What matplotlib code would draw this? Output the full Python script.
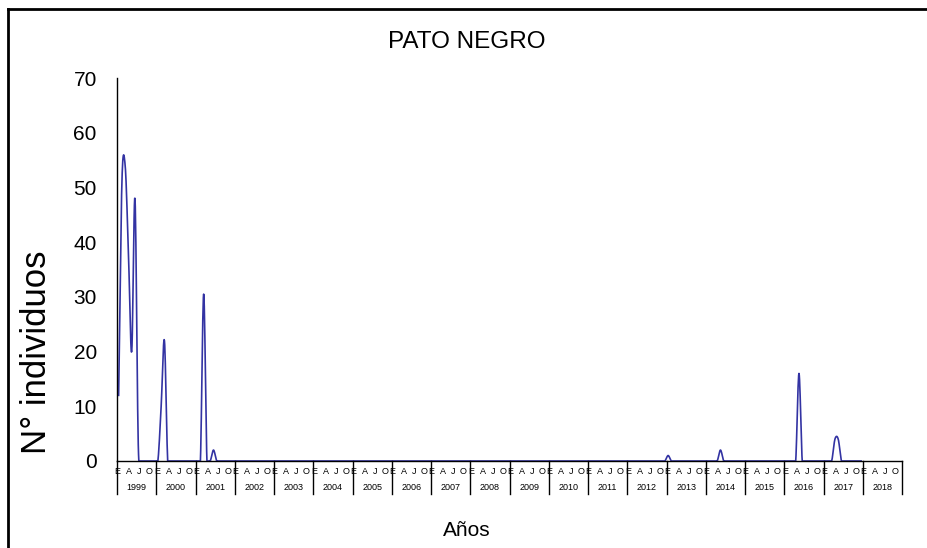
import numpy as np
import matplotlib.pyplot as plt
from matplotlib.lines import Line2D

plt.rcParams['font.family'] = ['Liberation Sans', 'DejaVu Sans']

anios = list(range(1999, 2019))
etiquetas_mes = ["E", "A", "J", "O"]

# N° individuos por mes (enero..diciembre)
conteo_1999 = [12, 51, 54, 38, 20, 48, 3, 0, 0, 0, 0, 0]
conteo_2000 = [0, 10, 22, 0, 0, 0, 0, 0, 0, 0, 0, 0]
conteo_2001 = [0, 0, 30.5, 0, 0, 2, 0, 0, 0, 0, 0, 0]
conteo_2002 = [0] * 12
conteo_2003 = [0] * 12
conteo_2004 = [0] * 12
conteo_2005 = [0] * 12
conteo_2006 = [0] * 12
conteo_2007 = [0] * 12
conteo_2008 = [0] * 12
conteo_2009 = [0] * 12
conteo_2010 = [0] * 12
conteo_2011 = [0] * 12
conteo_2012 = [0] * 12
conteo_2013 = [1, 0, 0, 0, 0, 0, 0, 0, 0, 0, 0, 0]
conteo_2014 = [0, 0, 0, 0, 2, 0, 0, 0, 0, 0, 0, 0]
conteo_2015 = [0] * 12
conteo_2016 = [0, 0, 0, 0, 16, 0, 0, 0, 0, 0, 0, 0]
conteo_2017 = [0, 0, 0, 4, 4, 0, 0, 0, 0, 0, 0, 0]

serie = (conteo_1999 + conteo_2000 + conteo_2001 + conteo_2002 + conteo_2003
         + conteo_2004 + conteo_2005 + conteo_2006 + conteo_2007 + conteo_2008
         + conteo_2009 + conteo_2010 + conteo_2011 + conteo_2012 + conteo_2013
         + conteo_2014 + conteo_2015 + conteo_2016 + conteo_2017)
y = np.array(serie, dtype=float)
x = np.arange(len(y)) + 0.5   # cada mes centrado en su categoria


# linea suavizada estilo Excel (bezier con puntos de control a 1/6)
def suavizar(px, py, n=12):
    xs, ys = [], []
    N = len(px)
    t = np.linspace(0, 1, n)
    for i in range(N - 1):
        i0, i3 = max(i - 1, 0), min(i + 2, N - 1)
        c1x = px[i] + (px[i + 1] - px[i0]) / 6
        c1y = py[i] + (py[i + 1] - py[i0]) / 6
        c2x = px[i + 1] - (px[i3] - px[i]) / 6
        c2y = py[i + 1] - (py[i3] - py[i]) / 6
        b0, b1, b2, b3 = (1 - t) ** 3, 3 * (1 - t) ** 2 * t, 3 * (1 - t) * t ** 2, t ** 3
        xs.append(b0 * px[i] + b1 * c1x + b2 * c2x + b3 * px[i + 1])
        ys.append(b0 * py[i] + b1 * c1y + b2 * c2y + b3 * py[i + 1])
    return np.concatenate(xs), np.concatenate(ys)


sx, sy = suavizar(x, y)
sy = np.clip(sy, 0, None)

W, H = 928, 548
fig = plt.figure(figsize=(W / 100, H / 100), dpi=100)
ax = fig.add_axes([117 / W, 1 - 461 / H, (902 - 117) / W, (461 - 78) / H])

ax.plot(sx, sy, color="#3333a3", lw=1.2, clip_on=False, zorder=1)

n_meses = 12 * len(anios)
ax.set_xlim(0, n_meses)
ax.set_ylim(0, 70)
ax.set_yticks(range(0, 71, 10))
ax.tick_params(axis="y", length=0, pad=14.5, labelsize=15)
ax.set_xticks([])
for s in ["top", "right"]:
    ax.spines[s].set_visible(False)
for s in ["left", "bottom"]:
    ax.spines[s].set_linewidth(1.0)
    ax.spines[s].set_zorder(3)

# eje de categorias: meses y años
trans = ax.get_xaxis_transform()
alto = (461 - 78)
for k, anio in enumerate(anios):
    x0 = 12 * k
    ax.add_line(Line2D([x0, x0], [0, -33 / alto], transform=trans, color="black",
                       lw=1.0, clip_on=False))
    for j, et in enumerate(etiquetas_mes):
        ax.text(x0 + [0.2, 3.8, 6.9, 9.9][j], -11 / alto, et, transform=trans,
                ha="center", va="center", fontsize=6.5)
    ax.text(x0 + 6, -26 / alto, str(anio), transform=trans, ha="center",
            va="center", fontsize=6.5)
ax.add_line(Line2D([n_meses, n_meses], [0, -33 / alto], transform=trans,
                   color="black", lw=1.0, clip_on=False))

fig.text(467 / W, 1 - 42 / H, "PATO NEGRO", ha="center", va="center", fontsize=17.5)
fig.text(37 / W, 1 - 352 / H, "N° individuos", ha="center", va="center",
         rotation=90, fontsize=25)
fig.text(467 / W, 1 - 530 / H, "Años", ha="center", va="center", fontsize=15)

# marco del grafico
fig.add_artist(Line2D([8 / W, 8 / W], [0, 1 - 9 / H], color="black", lw=2))
fig.add_artist(Line2D([8 / W, 1], [1 - 9 / H, 1 - 9 / H], color="black", lw=2))

fig.savefig("out.png", dpi=100)
